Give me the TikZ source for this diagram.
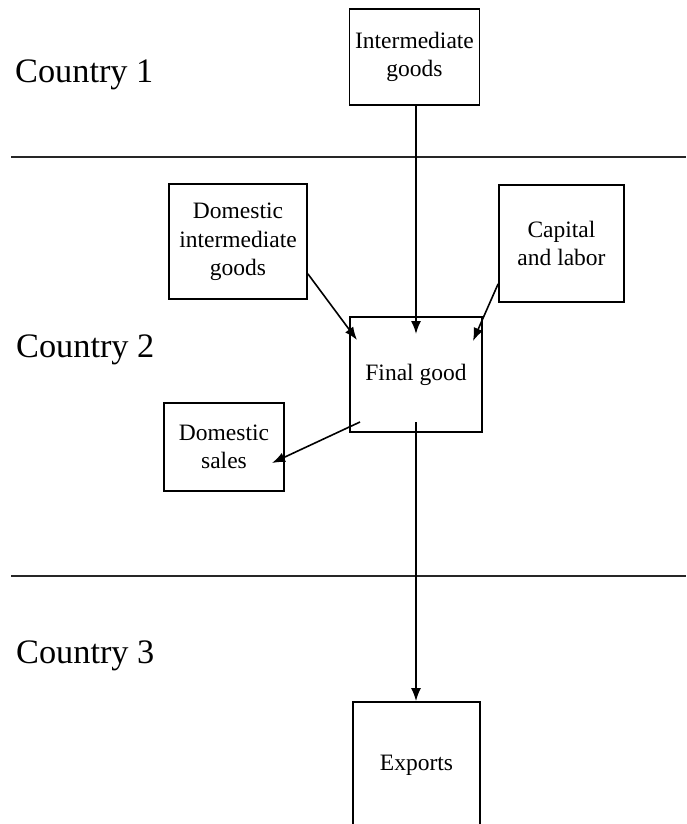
\documentclass[tikz,border=0pt]{standalone}
\usepackage{fontspec}
\setmainfont{Liberation Serif}
\usetikzlibrary{arrows.meta,calc}
\tikzset{
  box/.style={draw, line width=1.8pt, inner sep=0pt, align=center,
    font=\fontsize{23.5}{28.5}\selectfont},
  arr/.style={line width=1.6pt, -{Latex[length=13pt,width=10pt]}},
  sep/.style={line width=1.8pt, draw=black!85},
  country/.style={anchor=base west, inner sep=0pt, font=\fontsize{34.3}{40}\selectfont}
}
\begin{document}
\begin{tikzpicture}[x=1pt,y=-1pt]
\useasboundingbox (0,0) rectangle (686,824);
% separators
\coordinate (l1a) at (11,157);
\coordinate (l1b) at (686,157);
\coordinate (l2a) at (11,576);
\coordinate (l2b) at (686,576);
\draw[sep] (l1a) -- (l1b);
\draw[sep] (l2a) -- (l2b);
% country labels
\node[country] (c1) at (15,83) {Country 1};
\node[country] (c2) at (16,357) {Country 2};
\node[country] (c3) at (16,663) {Country 3};
% boxes
\node[box, minimum width=130pt, minimum height=96pt] (ig) at (414.5,57) {\raisebox{-2pt}{\begin{tabular}{@{}c@{}}Intermediate\\goods\end{tabular}}};
\node[box, minimum width=138pt, minimum height=115pt] (dig) at (238,241.5) {\raisebox{-3pt}{\begin{tabular}{@{}c@{}}Domestic\\intermediate\\goods\end{tabular}}};
\node[box, minimum width=125pt, minimum height=117pt] (cl) at (561.5,243.5) {Capital\\and labor};
\node[box, minimum width=132pt, minimum height=115pt] (fg) at (416,374.5) {Final good};
\node[box, minimum width=120pt, minimum height=88pt] (ds) at (224,447) {Domestic\\sales};
\node[box, minimum width=127pt, minimum height=126pt] (ex) at (416.5,765) {Exports};
% connector points
\coordinate (t1) at (416,334);
\coordinate (t2) at (357,340);
\coordinate (t3) at (473,341);
\coordinate (s4) at (360,422);
\coordinate (t4) at (272,463);
\coordinate (s5) at (416,422);
% connectors
\draw[arr] (ig.south -| t1) -- (t1);
\draw[arr] ($(dig.south east)+(0,-26)$) -- (t2);
\draw[arr] ($(cl.south west)+(0,-19)$) -- (t3);
\draw[arr] (s4) -- (t4);
\draw[arr] (s5) -- (s5 |- ex.north);
\end{tikzpicture}
\end{document}
